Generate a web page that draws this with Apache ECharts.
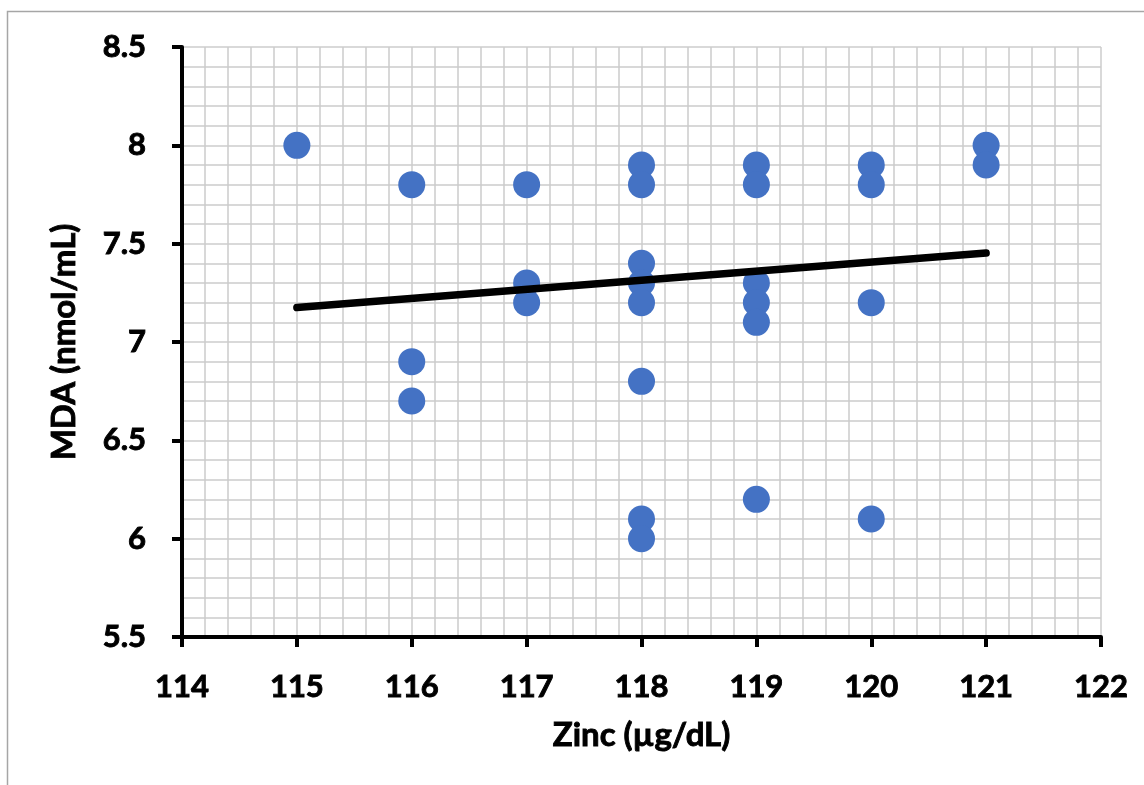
<!DOCTYPE html>
<html>
<head>
<meta charset="utf-8">
<script src="https://cdn.jsdelivr.net/npm/echarts@6/dist/echarts.min.js"></script>
<style>html,body{margin:0;padding:0;background:#fff}#c{width:1144px;height:785px}</style>
</head>
<body>
<div id="c"></div>
<script>
const zinc = [115, 116,116,116, 117,117,117, 118,118,118,118,118,118,118,118, 119,119,119,119,119,119, 120,120,120,120, 121,121];
const mda  = [8.0, 7.8,6.9,6.7, 7.8,7.3,7.2, 7.9,7.8,7.4,7.3,7.2,6.8,6.1,6.0, 7.9,7.8,7.3,7.2,7.1,6.2, 7.9,7.8,7.2,6.1, 8.0,7.9];
const trendX = [115, 121];
const trendY = [7.175, 7.452];
const xTitle = 'Zinc (µg/dL)';
const yTitle = 'MDA (nmol/mL)';

const chart = echarts.init(document.getElementById('c'));
const font = 'Lato, "Open Sans", sans-serif';
const grid = '#cccccc';
const txt = (size) => ({fontFamily:font, fontWeight:'bold', fontSize:size, color:'#000', textBorderColor:'#000', textBorderWidth:0.9});
chart.setOption({
  animation: false,
  graphic: [{type:'rect', shape:{x:7.5,y:11.5,width:1160,height:800}, style:{fill:'none', stroke:'#a6a6a6', lineWidth:1.5}, z:-1}],
  grid: {left:182, right:43, top:47, bottom:148},
  xAxis: {
    type:'value', min:114, max:122, interval:1,
    name: xTitle, nameLocation:'middle', nameGap:82,
    nameTextStyle: txt(33),
    axisLine:{show:true, onZero:false, lineStyle:{color:'#000', width:4}},
    axisTick:{show:true, length:10, lineStyle:{color:'#000', width:4}},
    axisLabel: Object.assign({margin:34}, txt(31)),
    splitLine:{show:true, lineStyle:{color:grid, width:1.5}},
    minorTick:{show:false, splitNumber:5},
    minorSplitLine:{show:true, lineStyle:{color:grid, width:1.5}}
  },
  yAxis: {
    type:'value', min:5.5, max:8.5, interval:0.5,
    name: yTitle, nameLocation:'middle', nameGap:101, nameRotate:90,
    nameTextStyle: txt(33),
    axisLine:{show:true, onZero:false, lineStyle:{color:'#000', width:4}},
    axisTick:{show:true, length:10, lineStyle:{color:'#000', width:4}},
    axisLabel: Object.assign({margin:36}, txt(31)),
    splitLine:{show:true, lineStyle:{color:grid, width:1.5}},
    minorTick:{show:false, splitNumber:5},
    minorSplitLine:{show:true, lineStyle:{color:grid, width:1.5}}
  },
  series: [
    {type:'scatter', data: zinc.map((x,i)=>[x, mda[i]]), symbolSize:27, itemStyle:{color:'#4472C4', opacity:1}, z:2},
    {type:'line', data: trendX.map((x,i)=>[x, trendY[i]]), showSymbol:false, symbol:'none',
     lineStyle:{color:'#000', width:7.5, cap:'round'}, z:3}
  ]
});
</script>
</body>
</html>
